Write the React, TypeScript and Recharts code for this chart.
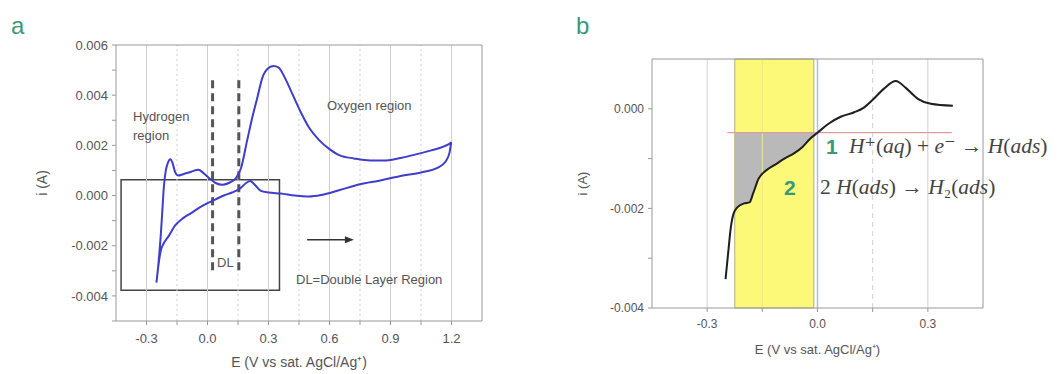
import {
  ComposedChart, Line, Area,
  XAxis, YAxis,
  ReferenceLine, ReferenceArea, ReferenceDot,
} from 'recharts'

// panel a: full CV loop (forward sweep then reverse), E in V, i in A
const cvE = [
  -0.251, -0.24, -0.23, -0.222, -0.215, -0.205, -0.195, -0.183, -0.172, -0.16, -0.145, -0.12, -0.08, -0.045, -0.02,
  0.01, 0.04, 0.075, 0.11, 0.14, 0.165, 0.195, 0.22, 0.245, 0.27, 0.3, 0.325, 0.35, 0.38, 0.42, 0.46,
  0.5, 0.55, 0.6, 0.65, 0.72, 0.8, 0.88, 0.95, 1.02, 1.1, 1.16, 1.2,
  1.19, 1.17, 1.13, 1.05, 0.95, 0.85, 0.75, 0.65, 0.56, 0.5, 0.43, 0.36, 0.3, 0.26, 0.23, 0.21,
  0.19, 0.16, 0.12, 0.08, 0.04, 0.0, -0.04, -0.08, -0.12, -0.16, -0.19, -0.215, -0.23, -0.24, -0.251,
]
const cvI = [
  -0.00347, -0.0026, -0.0016, -0.0006, 0.0003, 0.001, 0.0013, 0.00145, 0.0013, 0.00095, 0.0008, 0.00085, 0.00095, 0.00103, 0.0009,
  0.00068, 0.0005, 0.00043, 0.00052, 0.0007, 0.0011, 0.0022, 0.0031, 0.0039, 0.0047, 0.00508, 0.00516, 0.0051, 0.0047, 0.004, 0.0033,
  0.0027, 0.0022, 0.00185, 0.0016, 0.00148, 0.0014, 0.0014, 0.0015, 0.00163, 0.0018, 0.00195, 0.00213,
  0.0017, 0.00135, 0.0011, 0.00092, 0.00078, 0.0006, 0.00045, 0.00022, 0.00002, -0.00004, 0.0, 0.00008, 0.00012, 0.0002, 0.00045, 0.00058,
  0.0005, 0.00028, 0.00012, 0.0, -0.00015, -0.0003, -0.00048, -0.0007, -0.0009, -0.0012, -0.0016, -0.0019, -0.0022, -0.0027, -0.00347,
]

// panel b: cathodic branch, hydrogen region zoom
const hE = [
  -0.25, -0.243, -0.236, -0.228, -0.225, -0.218, -0.2, -0.185, -0.175, -0.16, -0.14, -0.115, -0.09, -0.065, -0.04, -0.02,
  0.0, 0.03, 0.063, 0.1, 0.125, 0.15, 0.18, 0.213, 0.24, 0.273, 0.308, 0.368,
]
const hI = [
  -0.00342, -0.0029, -0.0024, -0.0021, -0.00205, -0.00198, -0.0019, -0.00188, -0.0017, -0.0014, -0.00124, -0.00112, -0.001, -0.0009, -0.00076, -0.0006,
  -0.00048, -0.0003, -0.00016, -0.00007, 0.00002, 0.00018, 0.0004, 0.00056, 0.00042, 0.0002, 0.0001, 0.00006,
]

const xTicksA = [-0.3, -0.15, 0, 0.15, 0.3, 0.45, 0.6, 0.75, 0.9, 1.05, 1.2]
const yTicksA = [-0.005, -0.004, -0.003, -0.002, -0.001, 0, 0.001, 0.002, 0.003, 0.004, 0.005, 0.006]
const xMajorA = [-0.3, 0, 0.3, 0.6, 0.9, 1.2]
const xMinorA = [-0.15, 0.15, 0.45, 0.75, 1.05]

const xTicksB = [-0.3, -0.15, 0, 0.15, 0.3]
const yTicksB = [-0.004, -0.003, -0.002, -0.001, 0]

const dlLines = [0.025, 0.154]
const boxA = { e1: -0.425, e2: 0.354, i1: -0.00377, i2: 0.00063 }
const bandB = { e1: -0.225, e2: -0.01 }
const onsetI = -0.00048

const cvData = cvE.map((x, k) => ({ x, y: cvI[k] }))
const hData = hE.map((x, k) => ({ x, y: hI[k] }))
const grayData = hData
  .filter((p) => p.x >= bandB.e1 && p.x <= 0)
  .map((p) => ({ x: p.x, band: [p.y, onsetI] }))

const FONT = '"Liberation Sans", Arial, sans-serif'
const TICK = { fill: '#555', fontSize: 13, fontFamily: FONT }
const AXIS = '#999'
const BLUE = '#3e3ecb'
const GREEN = '#3a9a78'

const isMajor = (v: number) => Math.abs(Math.round(v / 0.3) * 0.3 - v) < 1e-6
const fmtE = (v: number) => (isMajor(v) ? v.toFixed(1) : '')
const fmtIa = (v: number) => (Math.round(v * 1000) % 2 === 0 && v > -0.0045 ? v.toFixed(3) : '')
const fmtIb = (v: number) => (Math.round(v * 1000) % 2 === 0 ? v.toFixed(3) : '')
const blank = () => ''

function ArrowHead(props: { cx?: number; cy?: number }) {
  const { cx = 0, cy = 0 } = props
  return <polygon points={`${cx},${cy} ${cx - 9},${cy - 3.5} ${cx - 9},${cy + 3.5}`} fill="#333" />
}

function PanelA() {
  return (
    <ComposedChart width={530} height={374} margin={{ top: 45, right: 48, bottom: 3, left: 42 }}>
      {xMajorA.map((v) => (
        <ReferenceLine key={'M' + v} x={v} stroke="#cfcfcf" strokeWidth={1} />
      ))}
      {xMinorA.map((v) => (
        <ReferenceLine key={'m' + v} x={v} stroke="#cfcfcf" strokeDasharray="2 3" />
      ))}
      <XAxis
        type="number" dataKey="x" domain={[-0.45, 1.35]} ticks={xTicksA} interval={0}
        tickFormatter={fmtE} tick={TICK} stroke={AXIS} tickSize={4} tickMargin={9} height={50}
        label={{ value: 'E (V vs sat. AgCl/Ag⁺)', position: 'insideBottom', offset: 4, style: { fill: '#555', fontSize: 14, fontFamily: FONT } }}
      />
      <XAxis xAxisId="top" orientation="top" mirror type="number" dataKey="x" domain={[-0.45, 1.35]} ticks={xTicksA} interval={0} tickFormatter={blank} stroke={AXIS} tickSize={4} />
      <YAxis
        type="number" domain={[-0.005, 0.006]} ticks={yTicksA} interval={0}
        tickFormatter={fmtIa} tick={TICK} stroke={AXIS} tickSize={4} tickMargin={4} width={74}
        label={{ value: 'i (A)', angle: -90, position: 'insideLeft', offset: 0, style: { textAnchor: 'middle', fill: '#555', fontSize: 14, fontFamily: FONT } }}
      />
      <YAxis yAxisId="right" orientation="right" mirror type="number" domain={[-0.005, 0.006]} ticks={yTicksA} interval={0} tickFormatter={blank} stroke={AXIS} tickSize={4} />
      <ReferenceArea x1={boxA.e1} x2={boxA.e2} y1={boxA.i1} y2={boxA.i2} fill="none" fillOpacity={0} stroke="#444" strokeWidth={1.5} />
      {dlLines.map((v) => (
        <ReferenceLine key={'dl' + v} segment={[{ x: v, y: 0.0046 }, { x: v, y: -0.00313 }]} stroke="#555" strokeWidth={3} strokeDasharray="8 5" />
      ))}
      <ReferenceLine segment={[{ x: 0.49, y: -0.00176 }, { x: 0.7, y: -0.00176 }]} stroke="#333" strokeWidth={1.5} />
      <ReferenceDot x={0.72} y={-0.00176} r={4} shape={<ArrowHead />} />
      <Line data={cvData} dataKey="y" type="monotone" stroke={BLUE} strokeWidth={2} dot={false} isAnimationActive={false} />
    </ComposedChart>
  )
}

function PanelB() {
  return (
    <ComposedChart width={533} height={374} margin={{ top: 59, right: 80, bottom: 18, left: 52 }}>
      <ReferenceArea x1={bandB.e1} x2={bandB.e2} fill="#fbf977" fillOpacity={1} stroke="#b0b080" strokeWidth={1} />
      <ReferenceLine x={-0.3} stroke="#cfcfd8" />
      <ReferenceLine x={-0.15} stroke="#ecea8a" />
      <ReferenceLine x={0} stroke="#b8b8d8" strokeWidth={1.5} />
      <ReferenceLine x={0.15} stroke="#d0d0d0" strokeDasharray="5 4" />
      <ReferenceLine x={0.3} stroke="#cfcfd8" />
      <XAxis
        type="number" dataKey="x" domain={[-0.45, 0.45]} ticks={xTicksB} interval={0}
        tickFormatter={fmtE} tick={{ ...TICK, fontSize: 12 }} stroke={AXIS} tickSize={4} tickMargin={7} height={48}
        label={{ value: 'E (V vs sat. AgCl/Ag⁺)', position: 'insideBottom', offset: 2, style: { fill: '#555', fontSize: 13, fontFamily: FONT } }}
      />
      <XAxis xAxisId="top" orientation="top" mirror type="number" dataKey="x" domain={[-0.45, 0.45]} ticks={xTicksB} interval={0} tickFormatter={blank} stroke={AXIS} tickSize={3} />
      <YAxis
        type="number" domain={[-0.004, 0.001]} ticks={yTicksB} interval={0}
        tickFormatter={fmtIb} tick={{ ...TICK, fontSize: 12 }} stroke={AXIS} tickSize={4} tickMargin={4} width={70}
        label={{ value: 'i (A)', angle: -90, position: 'insideLeft', offset: 0, style: { textAnchor: 'middle', fill: '#555', fontSize: 13, fontFamily: FONT } }}
      />
      <YAxis yAxisId="right" orientation="right" mirror type="number" domain={[-0.004, 0.001]} ticks={yTicksB} interval={0} tickFormatter={blank} stroke={AXIS} tickSize={4} />
      <Area data={grayData} dataKey="band" type="linear" stroke="none" fill="#b9b9b9" fillOpacity={1} isAnimationActive={false} />
      <ReferenceLine segment={[{ x: -0.245, y: onsetI }, { x: 0.365, y: onsetI }]} stroke="#e29a9a" strokeWidth={1.2} />
      <Line data={hData} dataKey="y" type="monotone" stroke="#1e1e1e" strokeWidth={2} dot={false} isAnimationActive={false} />
    </ComposedChart>
  )
}

const SERIF = '"Liberation Serif", "DejaVu Serif", serif'

export default function App() {
  return (
    <div style={{ position: 'absolute', left: 0, top: 0, width: 1063, height: 374, background: '#fff', overflow: 'hidden' }}>
      <div style={{ position: 'absolute', left: 0, top: 0 }}>
        <PanelA />
      </div>
      <div style={{ position: 'absolute', left: 530, top: 0 }}>
        <PanelB />
      </div>
      <svg width={1063} height={374} style={{ position: 'absolute', left: 0, top: 0, pointerEvents: 'none' }}>
        <text x={11} y={34} fill={GREEN} fontSize={24} fontFamily={FONT}>a</text>
        <text x={576} y={34} fill={GREEN} fontSize={24} fontFamily={FONT}>b</text>
        <g fill="#555" fontSize={13} fontFamily={FONT} dominantBaseline="middle">
          <text x={133} y={118}>Hydrogen</text>
          <text x={133} y={137}>region</text>
          <text x={327} y={107}>Oxygen region</text>
          <text x={217} y={264}>DL</text>
          <text x={296} y={281}>DL=Double Layer Region</text>
        </g>
        <text x={826} y={148} fill={GREEN} fontSize={21} fontWeight="bold" fontFamily={FONT} dominantBaseline="middle">1</text>
        <text x={784} y={189} fill={GREEN} fontSize={21} fontWeight="bold" fontFamily={FONT} dominantBaseline="middle">2</text>
        <text x={849} y={148} fill="#444" fontSize={21.5} fontFamily={SERIF} dominantBaseline="middle">
          <tspan fontStyle="italic">H</tspan>⁺(<tspan fontStyle="italic">aq</tspan>) + <tspan fontStyle="italic">e</tspan>⁻ → <tspan fontStyle="italic">H</tspan>(<tspan fontStyle="italic">ads</tspan>)
        </text>
        <text x={820} y={189} fill="#444" fontSize={21.5} fontFamily={SERIF} dominantBaseline="middle">
          2 <tspan fontStyle="italic">H</tspan>(<tspan fontStyle="italic">ads</tspan>) → <tspan fontStyle="italic">H</tspan>₂(<tspan fontStyle="italic">ads</tspan>)
        </text>
      </svg>
    </div>
  )
}
